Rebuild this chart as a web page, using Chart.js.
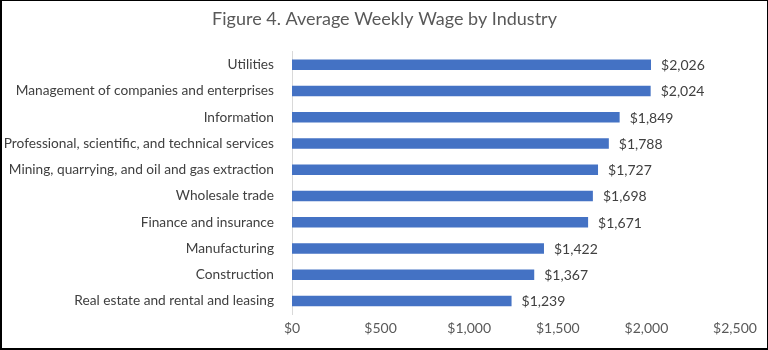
<!DOCTYPE html>
<html lang="en">
<head>
    <meta charset="UTF-8">
    <title>Average Weekly Wage by Industry</title>
    <script src="https://cdn.jsdelivr.net/npm/chart.js"></script>
    <style>
        body {
            margin: 0;
            padding: 0;
            background: #fff;
        }
        .frame {
            width: 768px;
            height: 350px;
            box-sizing: border-box;
            border: 1px solid #000;
            border-left-width: 2px;
            border-bottom-width: 2px;
            position: relative;
        }
    </style>
</head>
<body>

<div class="frame">
    <canvas id="wageChart"></canvas>
</div>

<script>
    // Data
    const industries = [
        'Utilities',
        'Management of companies and enterprises',
        'Information',
        'Professional, scientific, and technical services',
        'Mining, quarrying, and oil and gas extraction',
        'Wholesale trade',
        'Finance and insurance',
        'Manufacturing',
        'Construction',
        'Real estate and rental and leasing'
    ];
    const weeklyWage = [2026, 2024, 1849, 1788, 1727, 1698, 1671, 1422, 1367, 1239];
    const axisMax = 2500;
    const axisStep = 500;

    const money = v => '$' + v.toLocaleString('en-US');
    const fontFam = 'Lato, "Open Sans", sans-serif';

    // draws "$x,xxx" just past the end of each bar
    const valueLabels = {
        id: 'valueLabels',
        afterDatasetsDraw(chart) {
            const ctx = chart.ctx;
            const meta = chart.getDatasetMeta(0);
            ctx.save();
            ctx.font = '14px ' + fontFam;
            ctx.fillStyle = '#404040';
            ctx.textAlign = 'left';
            ctx.textBaseline = 'middle';
            meta.data.forEach((bar, i) => {
                ctx.fillText(money(weeklyWage[i]), bar.x + 10, bar.y + 1);
            });
            ctx.restore();
        }
    };

    new Chart(document.getElementById('wageChart'), {
        type: 'bar',
        data: {
            labels: industries,
            datasets: [{
                data: weeklyWage,
                backgroundColor: '#4472C4',
                borderWidth: 0,
                barPercentage: 0.4,
                categoryPercentage: 1
            }]
        },
        options: {
            indexAxis: 'y',
            responsive: true,
            maintainAspectRatio: false,
            animation: false,
            layout: {
                padding: 0
            },
            plugins: {
                legend: { display: false },
                tooltip: { enabled: false },
                title: {
                    display: true,
                    text: 'Figure 4. Average Weekly Wage by Industry',
                    color: '#595959',
                    font: { family: fontFam, size: 18, weight: 'normal' },
                    padding: { top: 7, bottom: 22 }
                }
            },
            scales: {
                x: {
                    min: 0,
                    max: axisMax,
                    ticks: {
                        stepSize: axisStep,
                        color: '#595959',
                        font: { family: fontFam, size: 14 },
                        callback: v => money(v),
                        padding: -2
                    },
                    grid: { display: false },
                    border: { display: false },
                    afterFit(scale) {
                        scale.height = 34;
                        scale.paddingRight = 32;
                    }
                },
                y: {
                    ticks: {
                        color: '#404040',
                        font: { family: fontFam, size: 13.7 },
                        padding: 10
                    },
                    grid: { display: false },
                    border: { display: true, color: '#d9d9d9', width: 1 },
                    afterFit(scale) {
                        scale.width = 290;
                    }
                }
            }
        },
        plugins: [valueLabels]
    });
</script>

</body>
</html>
